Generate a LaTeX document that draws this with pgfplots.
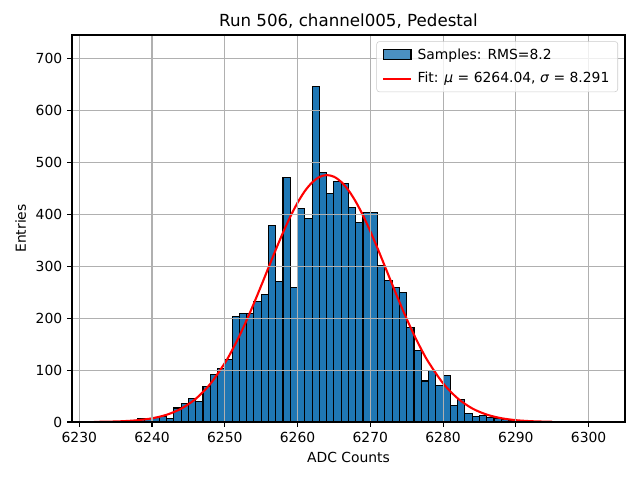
\documentclass[border=0pt]{standalone}
\usepackage{fontspec}
\setmainfont{DejaVu Sans}
\usepackage{pgfplots}
\pgfplotsset{compat=1.18}
\definecolor{barblue}{HTML}{1F77B4}
\definecolor{gridgray}{HTML}{B0B0B0}
\definecolor{legframe}{HTML}{CCCCCC}
\begin{document}
\begin{tikzpicture}
\path[use as bounding box] (0,0) rectangle (460.8pt,345.6pt);
\begin{axis}[
  at={(51.84pt,41.76pt)}, anchor=south west,
  width=398.16pt, height=278.64pt, scale only axis,
  axis on top,
  xmin=6229, xmax=6305, ymin=0, ymax=746,
  xtick={6230,6240,...,6300}, ytick={0,100,...,700},
  /pgf/number format/1000 sep={},
  /pgf/number format/assume math mode=true,
  tick label style={font=\fontsize{10}{12}\selectfont},
  grid=major,
  grid style={gridgray, line width=0.8pt},
  axis line style={line width=0.8pt},
  tick style={black, line width=0.8pt},
  major tick length=3.5pt,
  tick align=outside, tick pos=left,
  title={Run 506, channel005, Pedestal},
  title style={font=\fontsize{12}{14}\selectfont, yshift=-4.5pt},
  xlabel={ADC Counts}, ylabel={Entries},
  label style={font=\fontsize{10}{12}\selectfont},
  legend cell align=left,
  legend style={at={(1,1)}, anchor=north east, xshift=-5pt, yshift=-4.5pt,
    draw=legframe, rounded corners=2pt, fill=white, fill opacity=0.8, text opacity=1,
    font=\fontsize{10}{12}\selectfont, row sep=4pt, inner xsep=4pt, inner ysep=3pt,
    /tikz/every odd column/.append style={column sep=2pt}},
]
\addplot[ybar interval, fill=barblue, draw=black, line width=0.8pt,
  legend image code/.code={\draw[sharp corners, fill=barblue, draw=black, line width=0.8pt] (0pt,-3.5pt) rectangle (20pt,3.5pt);}]
coordinates {
(6238,7) (6239,7) (6240,8) (6241,11) (6242,6) (6243,27) (6244,35) (6245,45) (6246,40) (6247,69)
(6248,91) (6249,103) (6250,121) (6251,204) (6252,210) (6253,210) (6254,233) (6255,246) (6256,379) (6257,271)
(6258,472) (6259,260) (6260,412) (6261,393) (6262,646) (6263,481) (6264,441) (6265,464) (6266,460) (6267,414)
(6268,384) (6269,404) (6270,404) (6271,301) (6272,272) (6273,260) (6274,250) (6275,182) (6276,137) (6277,79)
(6278,99) (6279,71) (6280,90) (6281,31) (6282,44) (6283,17) (6284,11) (6285,13) (6286,9) (6287,7)
(6288,4) (6289,2) (6290,2)
};
\addlegendentry{Samples: RMS=8.2}
\addplot[red, line width=1.5pt, smooth,
  legend image code/.code={\draw[sharp corners, red, line width=1.5pt] (0pt,0pt) -- (20pt,0pt);}]
coordinates {
(6232,0.27) (6234,0.67) (6236,1.56) (6238,3.43) (6240,7.11) (6242,13.9) (6244,25.7) (6246,44.6)
(6248,73.3) (6250,113.5) (6251,138.2) (6252,165.8) (6253,196.2) (6254,228.7) (6255,262.7) (6256,297.5)
(6257,331.9) (6258,365.1) (6259,395.7) (6260,422.7) (6261,445.1) (6262,461.8) (6263,472.3) (6264,476)
(6265,472.8) (6266,462.9) (6267,446.6) (6268,424.7) (6269,398.0) (6270,367.6) (6271,334.6) (6272,300.2)
(6273,265.5) (6274,231.3) (6275,198.7) (6276,168.2) (6277,140.3) (6278,115.3) (6280,74.6) (6282,45.6)
(6284,26.2) (6286,14.3) (6288,7.3) (6290,3.5) (6292,1.6) (6294,0.7) (6295,0.45)
};
\addlegendentry{Fit: \textit{μ} = 6264.04, \textit{σ} = 8.291}
\end{axis}
\end{tikzpicture}
\end{document}
